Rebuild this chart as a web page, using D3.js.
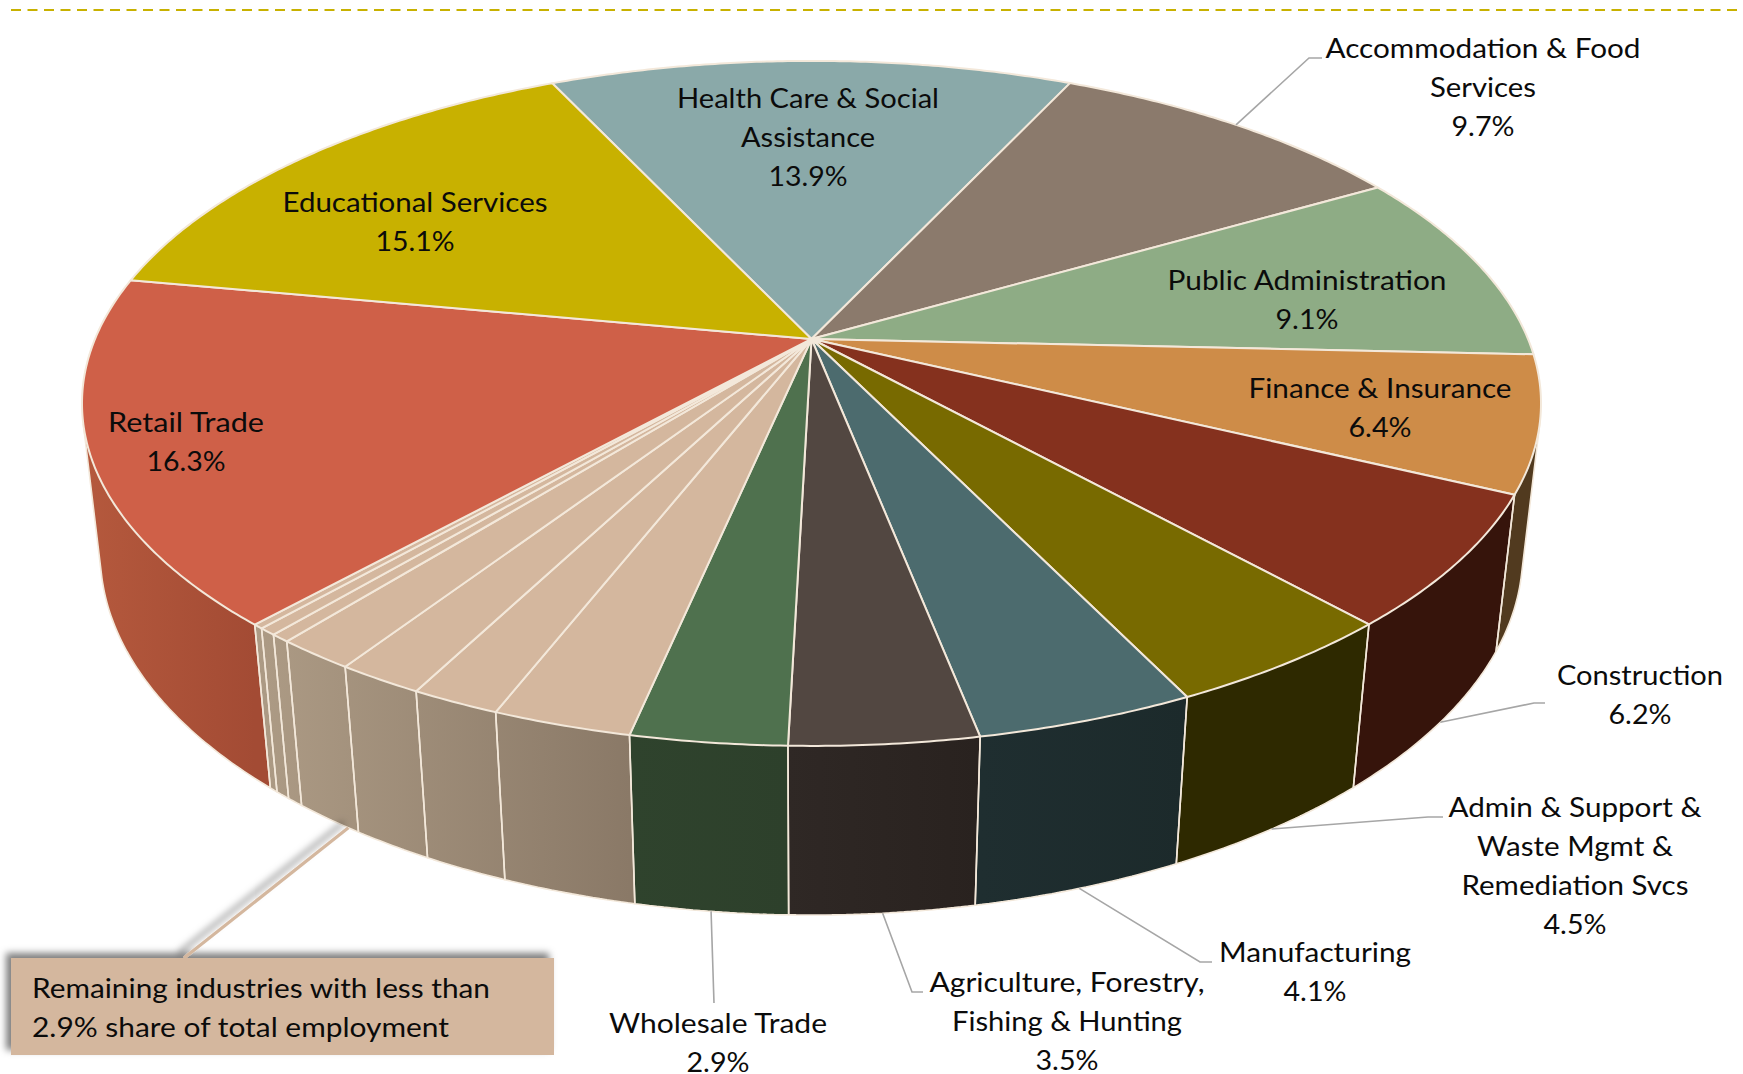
<!DOCTYPE html>
<html><head><meta charset="utf-8">
<script src="https://cdn.jsdelivr.net/npm/d3@7/dist/d3.min.js"></script>
<style>html,body{margin:0;padding:0;background:#fff}svg{display:block}</style>
</head><body><svg id="c" width="1743" height="1074"></svg>
<script>
// ---------- data ----------
const industries = ["Health Care & Social Assistance","Accommodation & Food Services","Public Administration","Finance & Insurance","Construction","Admin & Support & Waste Mgmt & Remediation Svcs","Manufacturing","Agriculture, Forestry, Fishing & Hunting","Wholesale Trade","Remaining 1","Remaining 2","Remaining 3","Remaining 4","Remaining 5","Remaining 6","Remaining 7","Retail Trade","Educational Services"];
const shares = [13.9,9.7,9.1,6.4,6.2,4.5,4.1,3.5,2.9,2.6,1.68,1.64,1.5,0.37,0.34,0.2,16.3,15.1];
const B="#d4b79e";
const topColors = ["#8aa9a9","#8b7a6c","#8eac85","#ce8c48","#85311e","#786a00","#4c6b6e","#524741","#4f714e",B,B,B,B,B,B,B,"#cf6048","#c8b100"];
const wallLeft  = ["#5a6e6e","#5a5046","#5d7057","#513a1f","#36140b","#2e2900","#1f2e30","#2f2825","#2f432d","#ad9b85","#ad9b85","#ad9b85","#ad9b85","#ad9b85","#ad9b85","#ad9b85","#b5593d","#82730a"];
const wallRight = ["#5a6e6e","#5a5046","#5d7057","#513a1f","#36140b","#2e2900","#1c2a2b","#29221f","#2d402b","#8a7967","#8a7967","#8a7967","#8a7967","#8a7967","#8a7967","#8a7967","#a34b34","#82730a"];
const wallGroup = [0,1,2,3,4,5,6,7,8,9,9,9,9,9,9,9,10,11];

// ---------- text layout ----------
const labelLines = [
 {i:0,cx:808,y:98,lines:[["Health Care & Social",262],["Assistance",134],["13.9%",79]]},
 {i:1,cx:1483,y:48,leader:{slice:1,z:0,pts:[[1322,58],[1309,58]]},lines:[["Accommodation & Food",315],["Services",106],["9.7%",63]]},
 {i:2,cx:1307,y:280,lines:[["Public Administration",279],["9.1%",63]]},
 {i:3,cx:1380,y:388,lines:[["Finance & Insurance",263],["6.4%",63]]},
 {i:4,cx:1640,y:675,leader:{slice:4,z:1,pts:[[1545,703],[1534,703]]},lines:[["Construction",166],["6.2%",63]]},
 {i:5,cx:1575,y:807,leader:{slice:5,z:1,pts:[[1443,817],[1428,817]]},lines:[["Admin & Support &",253],["Waste Mgmt &",196],["Remediation Svcs",227],["4.5%",63]]},
 {i:6,cx:1315,y:952,leader:{slice:6,z:1,pts:[[1212,962],[1200,962]]},lines:[["Manufacturing",192],["4.1%",63]]},
 {i:7,cx:1067,y:982,leader:{slice:7,z:1,pts:[[923,992],[912,992]]},lines:[["Agriculture, Forestry,",275],["Fishing & Hunting",230],["3.5%",63]]},
 {i:8,cx:718,y:1023,leader:{slice:8,z:1,pts:[[714,1003]]},lines:[["Wholesale Trade",218],["2.9%",63]]},
 {i:16,cx:186,y:422,lines:[["Retail Trade",156],["16.3%",79]]},
 {i:17,cx:415,y:202,lines:[["Educational Services",265],["15.1%",79]]}
];
const calloutLines = [["Remaining industries with less than",458],["2.9% share of total employment",417]];

// ---------- perspective projection of the disc (z 0=top, 1=bottom) ----------
const CX=811.5, CY=339, A=716.5, Bv=330.4, K=0.188, N=0.0248, E=151.6;
const project=(ang,z)=>{
  const u=Math.sin(ang), v=-Math.cos(ang), w=1-K*v+N*z;
  return [CX+A*u/w, CY+(Bv*v+E*z)/w];
};
const rad=d=>d*Math.PI/180;
const pie=d3.pie().sort(null).startAngle(rad(-25.05)).endAngle(rad(334.95));
const arcs=pie(shares);
const arcAngles=(a0,a1)=>{const n=Math.max(6,Math.ceil((a1-a0)/rad(0.5)));return d3.range(n+1).map(t=>a0+(a1-a0)*t/n);};
const arcPts=(a0,a1,z)=>arcAngles(a0,a1).map(t=>project(t,z));
const line=d3.line();
const svg=d3.select("#c");
const defs=svg.append("defs");
const FONT="Lato, 'Open Sans', sans-serif", CREAM="#f3e8da", TXT="#0b0b0b";

const fl=defs.append("filter").attr("id","sh").attr("x","-10%").attr("y","-20%").attr("width","120%").attr("height","140%");
fl.append("feDropShadow").attr("dx",-5).attr("dy",-5).attr("stdDeviation",3.5).attr("flood-color","#000").attr("flood-opacity",0.5);

// dashed rule at the top
svg.append("line").attr("x1",11).attr("x2",1743).attr("y1",10).attr("y2",10)
  .attr("stroke","#c8b100").attr("stroke-width",2).attr("stroke-dasharray","10 6.5");

// wall gradients by group
d3.groups(arcs.map((a,i)=>({a,i})),d=>wallGroup[d.i]).forEach(([g,items])=>{
  const xs=items.flatMap(d=>arcPts(d.a.startAngle,d.a.endAngle,0).map(p=>p[0]));
  const i0=items[0].i;
  const gr=defs.append("linearGradient").attr("id","w"+g).attr("gradientUnits","userSpaceOnUse")
    .attr("x1",d3.min(xs)).attr("x2",d3.max(xs)).attr("y1",0).attr("y2",0);
  gr.append("stop").attr("offset",0).attr("stop-color",wallLeft[i0]);
  gr.append("stop").attr("offset",1).attr("stop-color",wallRight[i0]);
});

// side walls: only the strips that face the viewer
const quadArea=(t0,t1,b1,b0)=>d3.polygonArea([t0,t1,b1,b0]);
const frontSign=Math.sign(quadArea(project(Math.PI-0.01,0),project(Math.PI+0.01,0),project(Math.PI+0.01,1),project(Math.PI-0.01,1)));
const wallG=svg.append("g");
const walls=arcs.map((a,i)=>{
  const T=arcPts(a.startAngle,a.endAngle,0), Bt=arcPts(a.startAngle,a.endAngle,1);
  let fill="", edge="", prevFront=null;
  T.forEach((p,j)=>{
    if(j===T.length-1) return;
    const front=Math.sign(quadArea(T[j],T[j+1],Bt[j+1],Bt[j]))===frontSign;
    if(front){
      fill+=line([T[j],T[j+1],Bt[j+1],Bt[j]])+"Z";
      edge+=line([Bt[j],Bt[j+1]]);
      if(prevFront!==true) edge+=line([T[j],Bt[j]]);
    } else if(prevFront===true){
      edge+=line([T[j],Bt[j]]);
    }
    prevFront=front;
  });
  if(prevFront===true) edge+=line([T[T.length-1],Bt[T.length-1]]);
  return {i,fill,edge};
});
wallG.selectAll("path.f").data(walls).join("path").attr("class","f").attr("d",d=>d.fill||null)
  .attr("fill",d=>`url(#w${wallGroup[d.i]})`);
wallG.selectAll("path.e").data(walls).join("path").attr("class","e").attr("d",d=>d.edge||null)
  .attr("fill","none").attr("stroke",CREAM).attr("stroke-width",1.6).attr("stroke-linecap","round");

// top face
svg.append("g").selectAll("path").data(arcs).join("path")
  .attr("d",a=>line([[CX,CY],...arcPts(a.startAngle,a.endAngle,0)])+"Z")
  .attr("fill",(a,i)=>topColors[i]).attr("stroke",CREAM).attr("stroke-width",2).attr("stroke-linejoin","round");

// leaders
labelLines.filter(d=>d.leader).forEach(d=>{
  const a=arcs[d.leader.slice], end=project((a.startAngle+a.endAngle)/2,d.leader.z);
  svg.append("path").attr("d",line([...d.leader.pts,end])).attr("fill","none").attr("stroke","#a6a6a6").attr("stroke-width",1.6);
});

// labels
const LH=39, FS=27;
const texts=svg.append("g").attr("font-family",FONT).attr("font-size",FS).attr("fill",TXT);
labelLines.forEach(d=>{
  d.lines.forEach(([t,w],k)=>{
    texts.append("text").attr("x",d.cx).attr("y",d.y+k*LH+10).attr("text-anchor","middle")
      .attr("textLength",w).attr("lengthAdjust","spacingAndGlyphs").text(t);
  });
});

// call-out for remaining industries
const ca=arcs[12], anchor=project(ca.startAngle+0.17*(ca.endAngle-ca.startAngle),1);
const cg=svg.append("g").attr("filter","url(#sh)");
cg.append("path").attr("d",line([[184,958],anchor])).attr("stroke",B).attr("stroke-width",3.2).attr("fill","none");
cg.append("rect").attr("x",11).attr("y",958).attr("width",543).attr("height",97).attr("fill",B);
calloutLines.forEach(([t,w],k)=>{
  svg.append("text").attr("x",32).attr("y",988+k*39+10).attr("font-family",FONT).attr("font-size",FS).attr("fill",TXT)
    .attr("textLength",w).attr("lengthAdjust","spacingAndGlyphs").text(t);
});
</script></body></html>
